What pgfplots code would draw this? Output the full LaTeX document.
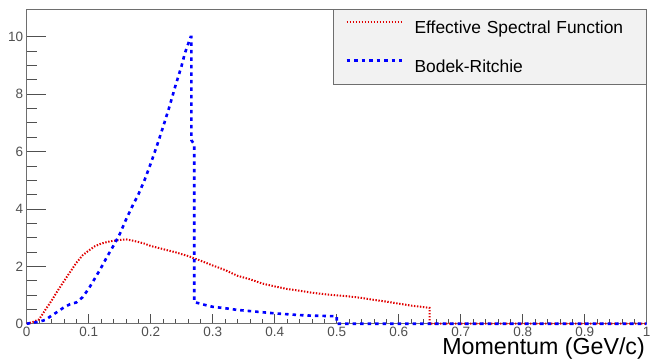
\documentclass[border=0pt]{standalone}
\usepackage{pgfplots}
\pgfplotsset{compat=1.18}
\usepackage{fontspec}
\setmainfont{Liberation Sans}
\definecolor{framec}{HTML}{6E6E6E}
\definecolor{tickc}{HTML}{505050}
\definecolor{rootred}{HTML}{E00000}
\definecolor{rootblue}{HTML}{0000FF}
\definecolor{legfill}{HTML}{F2F2F2}
\begin{document}
\begin{tikzpicture}
\pgfplotsset{common/.style={width=620pt,height=314.7pt,scale only axis,
  xmin=0,xmax=1,ymin=0,ymax=10.97,
  axis line style={framec, line width=0.8pt},
  tick style={tickc, line width=0.8pt},
  tick align=inside, xtick pos=bottom, ytick pos=left,
  /pgf/number format/assume math mode=true,
  tick label style={font=\fontsize{13.5}{16}\selectfont, text=tickc},
  clip=false}}
\begin{axis}[common, xtick=\empty, ytick={0,2,4,6,8,10}, minor y tick num=3,
  major tick length=19pt, minor tick length=10pt]
\end{axis}
\begin{axis}[common, name=ax, ytick=\empty,
  xtick={0,0.1,0.2,0.3,0.4,0.5,0.6,0.7,0.8,0.9,1}, minor x tick num=4,
  major tick length=9.5pt, minor tick length=5pt,
  x tick label style={inner sep=0pt, yshift=-2.5pt, text height=9.8pt, text depth=0pt},
  xlabel={Momentum (GeV/c)},
  xlabel style={at={(axis description cs:1,0)}, anchor=base east, yshift=-30.5pt, xshift=-1.7pt,
    font=\fontsize{23.2}{27}\selectfont, inner sep=0pt, text height=16.5pt, text depth=0pt},
  legend style={at={(axis description cs:1,1)}, anchor=north east, draw=framec, line width=0.8pt,
    fill=legfill, inner xsep=11.6pt, inner ysep=7.5pt, row sep=18pt, column sep=11.7pt,
    font=\fontsize{17.4}{21}\selectfont,
    nodes={inner sep=0pt, text width=220.1pt, text height=16.8pt, text depth=4.2pt, align=left}},
  legend cell align=left,
  legend image code/.code={\draw[#1] (0pt,5.8pt) -- (55pt,5.8pt);}]
\addplot[color=rootred, draw=rootred, line width=2pt, dash pattern=on 1.4pt off 1.6pt] coordinates {
(0,0) (0.01,0.06) (0.02,0.15) (0.03,0.48) (0.04,0.8) (0.05,1.15) (0.06,1.48) (0.07,1.8)
(0.08,2.12) (0.09,2.38) (0.10,2.55) (0.11,2.7) (0.12,2.79) (0.13,2.85) (0.14,2.89)
(0.15,2.92) (0.16,2.94) (0.17,2.9) (0.18,2.85) (0.19,2.79) (0.20,2.71) (0.22,2.6)
(0.24,2.49) (0.26,2.36) (0.28,2.2) (0.30,2.03) (0.32,1.87) (0.34,1.67) (0.36,1.55)
(0.38,1.4) (0.40,1.3) (0.42,1.21) (0.44,1.15) (0.46,1.08) (0.48,1.03) (0.50,0.99)
(0.52,0.95) (0.54,0.9) (0.56,0.83) (0.58,0.77) (0.60,0.7) (0.62,0.63) (0.64,0.58)
(0.65,0.55) (0.65,0) (1.0,0)};
\addlegendentry{Effective Spectral Function}
\addplot[color=rootblue, draw=rootblue, line width=2.6pt, dash pattern=on 3.5pt off 4pt] coordinates {
(0,0) (0.01,0.03) (0.02,0.07) (0.03,0.13) (0.04,0.28) (0.05,0.42) (0.06,0.57) (0.07,0.68)
(0.08,0.74) (0.09,0.92) (0.10,1.22) (0.11,1.58) (0.12,1.95) (0.13,2.35) (0.14,2.72)
(0.15,3.12) (0.16,3.62) (0.17,4.08) (0.18,4.5) (0.19,5.0) (0.20,5.58) (0.21,6.2)
(0.22,6.86) (0.23,7.55) (0.24,8.3) (0.25,9.0) (0.255,9.42) (0.2645,10.0) (0.2655,10.0)
(0.2655,6.4) (0.2703,6.25) (0.2703,0.75) (0.28,0.7) (0.29,0.64) (0.30,0.59) (0.32,0.54)
(0.34,0.48) (0.36,0.44) (0.38,0.40) (0.40,0.36) (0.42,0.33) (0.44,0.30) (0.46,0.28)
(0.48,0.27) (0.50,0.26) (0.50,0) (1.0,0)};
\addlegendentry{Bodek-Ritchie}
\end{axis}
\pgfresetboundingbox
\path[use as bounding box] ([xshift=-26.7pt,yshift=-35.3pt]ax.south west) rectangle ([xshift=3.3pt,yshift=9pt]ax.north east);
\end{tikzpicture}
\end{document}
